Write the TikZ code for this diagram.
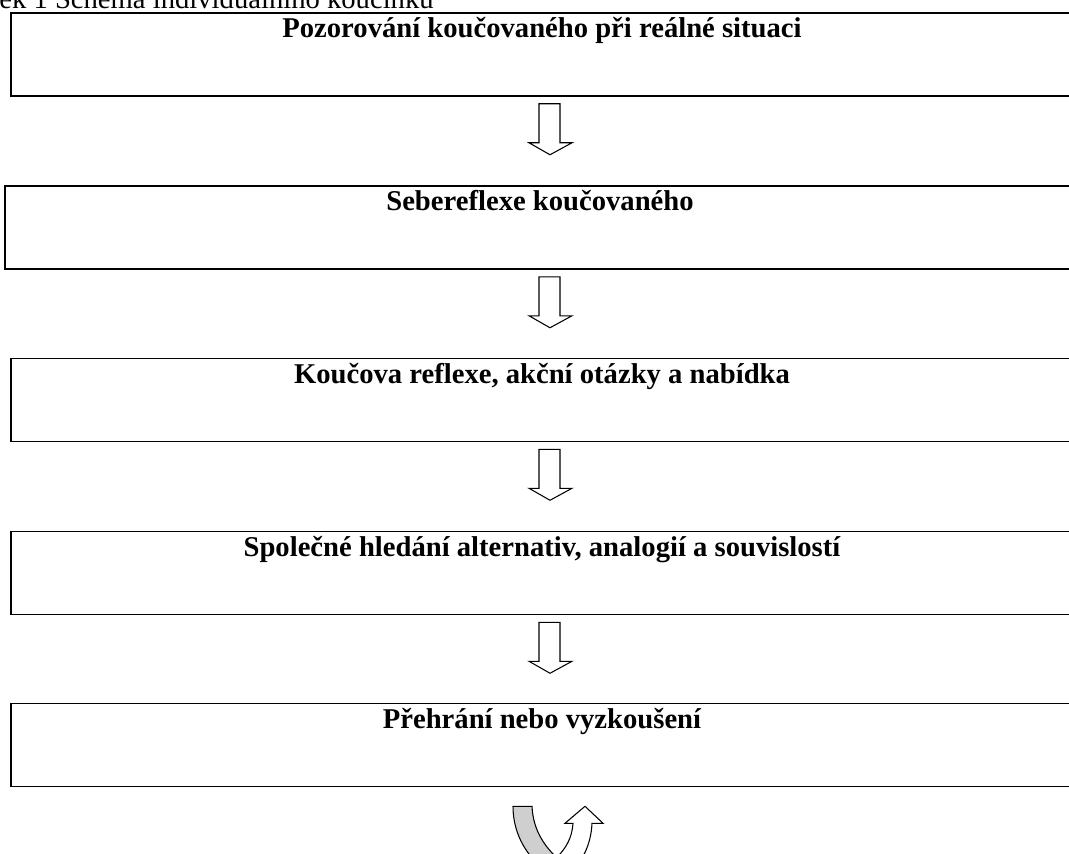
\documentclass[tikz,border=0pt]{standalone}
\usepackage{fontspec}
\setmainfont{Liberation Serif}
\usetikzlibrary{positioning,calc}
\definecolor{bandgray}{HTML}{CFCFCF}

\begin{document}
\begin{tikzpicture}[x=0.02cm,y=-0.02cm,
  stage/.style={draw,line width=0.9pt,minimum width=21.24cm,inner xsep=0pt,inner ysep=0pt,
    text height=0.5cm,text depth=1.16cm,font=\bfseries\fontsize{16.3}{19}\selectfont},
  blockarrow/.style={draw,line width=0.6pt,fill=white,line join=miter}]
  \useasboundingbox (0,0) rectangle (1069,854);
  \node[anchor=base west,inner sep=0pt,font=\fontsize{16.3}{19}\selectfont] (caption) at (-1,9)
    {ek 1 Schéma individuálního koučinku};
  % the five steps
  \node[stage] (s1) at (542,54.5) {Pozorování koučovaného při reálné situaci};
  \node[stage,minimum width=21.4cm] (s2) at (540,227.5) {Sebereflexe koučovaného};
  \node[stage] (s3) at (542,400) {Koučova reflexe, akční otázky a nabídka};
  \node[stage] (s4) at (542,573) {Společné hledání alternativ, analogií a souvislostí};
  \node[stage] (s5) at (542,745) {Přehrání nebo vyzkoušení};
  \coordinate (mid) at (550,0);
  % hollow arrows between the steps
  \foreach \a in {1,...,4} {
    \begin{scope}[shift={(s\a.south -| mid)}]
      \draw[blockarrow] (-11,7) -- (10,7) -- (10,46) -- (22,46) -- (0,58) -- (-21,46) -- (-11,46) -- cycle;
    \end{scope}
  }
  % u-turn arrow back to the start
  \begin{scope}[shift={(s5.south -| mid)}]
    \draw[line width=0.6pt,fill=bandgray] (-37,19) -- (-18,19) .. controls (-17,43) and (-5,61) .. (12,75)
      -- (-2,85) .. controls (-22,71) and (-37,48) .. cycle;
    \draw[blockarrow] (6,71) .. controls (16,61) and (22,51) .. (23,36) -- (15,36) -- (35,19) -- (53,36)
      -- (42,36) .. controls (41,58) and (32,75) .. (18,88) -- cycle;
  \end{scope}
\end{tikzpicture}
\end{document}
